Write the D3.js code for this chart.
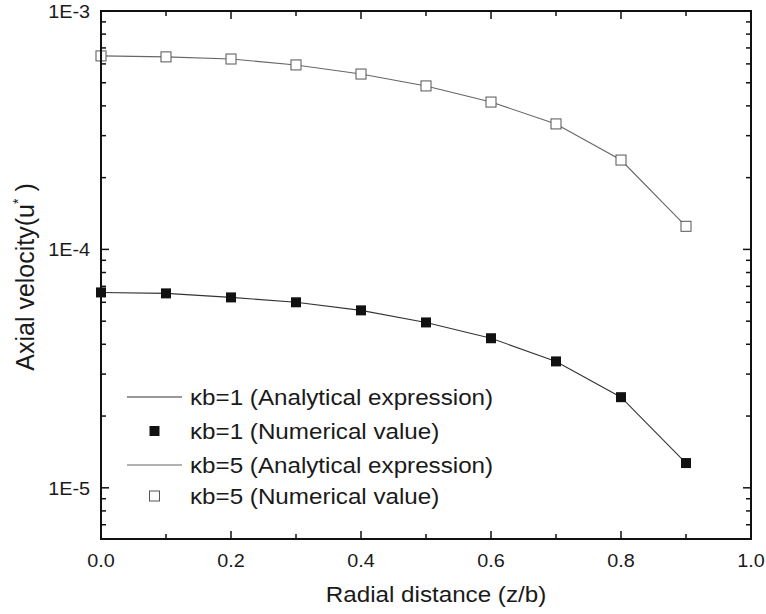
<!DOCTYPE html>
<html>
<head>
<meta charset="utf-8">
<script src="https://cdn.jsdelivr.net/npm/d3@7"></script>
<style>
  body { margin: 0; background: #fff; }
  text { font-family: "Liberation Sans", Arial, sans-serif; fill: #1a1a1a; }
</style>
</head>
<body>
<svg width="766" height="614"></svg>
<script>
// radial distance z/b
const zb = [0.0, 0.1, 0.2, 0.3, 0.4, 0.5, 0.6, 0.7, 0.8, 0.9]
// axial velocity u*
const kb1 = [6.6e-5, 6.54e-5, 6.29e-5, 6.0e-5, 5.55e-5, 4.94e-5, 4.24e-5, 3.39e-5, 2.40e-5, 1.27e-5]
const kb5 = [6.48e-4, 6.42e-4, 6.29e-4, 5.94e-4, 5.44e-4, 4.85e-4, 4.15e-4, 3.36e-4, 2.37e-4, 1.25e-4]
const xTicks = [0.0, 0.2, 0.4, 0.6, 0.8, 1.0]
const yTicks = [1e-5, 1e-4, 1e-3]
const yTickLabels = ['1E-5', '1E-4', '1E-3']
const legendLabels = [
  'κb=1 (Analytical expression)',
  'κb=1 (Numerical value)',
  'κb=5 (Analytical expression)',
  'κb=5 (Numerical value)',
]

const pL = 101, pR = 751, pT = 11, pB = 539
const SX = 1.1 // the source figure is a little wide

const svg = d3.select('svg')
const x = d3.scaleLinear().domain([0, 1]).range([pL, pR])
const y = d3.scaleLog().domain([6.1e-6, 1e-3]).range([pB, pT])

// minor ticks
const minorX = d3.range(0.1, 1.0, 0.2)
const minorY = []
for (let e = -6; e <= -4; e++) {
  for (let m = 2; m <= 9; m++) {
    const v = m * Math.pow(10, e)
    if (v >= y.domain()[0] && v <= y.domain()[1]) minorY.push(v)
  }
}

const g = svg.append('g')

// the curves
const line = d3.line().x((d, i) => x(zb[i])).y(d => y(d))
g.append('path').attr('d', line(kb1))
  .attr('fill', 'none').attr('stroke', '#333').attr('stroke-width', 1.1)
g.append('path').attr('d', line(kb5))
  .attr('fill', 'none').attr('stroke', '#666').attr('stroke-width', 1.1)

const ms = 10
g.selectAll('.m1').data(kb1).join('rect')
  .attr('x', (d, i) => x(zb[i]) - ms / 2).attr('y', d => y(d) - ms / 2)
  .attr('width', ms).attr('height', ms).attr('fill', '#111')
g.selectAll('.m5').data(kb5).join('rect')
  .attr('x', (d, i) => x(zb[i]) - ms / 2).attr('y', d => y(d) - ms / 2)
  .attr('width', ms).attr('height', ms)
  .attr('fill', '#fff').attr('stroke', '#555').attr('stroke-width', 1)

// frame
svg.append('rect').attr('x', pL).attr('y', pT)
  .attr('width', pR - pL).attr('height', pB - pT)
  .attr('fill', 'none').attr('stroke', '#111').attr('stroke-width', 2)

const tickLine = (x1, y1, x2, y2) => svg.append('line')
  .attr('x1', x1).attr('y1', y1).attr('x2', x2).attr('y2', y2)
  .attr('stroke', '#111').attr('stroke-width', 1.5)

xTicks.forEach(t => {
  tickLine(x(t), pB, x(t), pB - 8)
  tickLine(x(t), pT, x(t), pT + 8)
})
minorX.forEach(t => {
  tickLine(x(t), pB, x(t), pB - 5)
  tickLine(x(t), pT, x(t), pT + 5)
})
yTicks.forEach(t => {
  tickLine(pL, y(t), pL + 8, y(t))
  tickLine(pR, y(t), pR - 8, y(t))
})
minorY.forEach(t => {
  tickLine(pL, y(t), pL + 5, y(t))
  tickLine(pR, y(t), pR - 5, y(t))
})

// wide text helper
const wtext = (px, py, size, anchor, str) => svg.append('text')
  .attr('transform', `translate(${px},${py}) scale(${SX},1)`)
  .attr('text-anchor', anchor).attr('font-size', size).text(str)

// tick labels
xTicks.forEach(t => wtext(x(t), 567, 18, 'middle', t.toFixed(1)))
yTicks.forEach((t, i) => wtext(90, y(t) + 7, 18, 'end', yTickLabels[i]))

// axis titles
wtext(436, 602, 22, 'middle', 'Radial distance (z/b)')

const yt = svg.append('text')
  .attr('transform', 'translate(34,277) rotate(-90)')
  .attr('text-anchor', 'middle').attr('font-size', 25)
yt.append('tspan').text('Axial velocity(u')
yt.append('tspan').attr('dy', -11).attr('font-size', 14).text('*')
yt.append('tspan').attr('dy', 11).text(' )')

// legend
const legY = [397, 431, 465, 496]
const leg = svg.append('g')
legendLabels.forEach((lab, i) => {
  const ly = legY[i]
  if (i % 2 === 0) {
    leg.append('line').attr('x1', 127).attr('x2', 182).attr('y1', ly).attr('y2', ly)
      .attr('stroke', i === 0 ? '#333' : '#666').attr('stroke-width', 1.1)
  } else if (i === 1) {
    leg.append('rect').attr('x', 154.5 - ms / 2).attr('y', ly - ms / 2)
      .attr('width', ms).attr('height', ms).attr('fill', '#111')
  } else {
    leg.append('rect').attr('x', 154.5 - ms / 2).attr('y', ly - ms / 2)
      .attr('width', ms).attr('height', ms).attr('fill', '#fff')
      .attr('stroke', '#555')
  }
  wtext(190, ly + 8, 22, 'start', lab)
})
</script>
</body>
</html>
